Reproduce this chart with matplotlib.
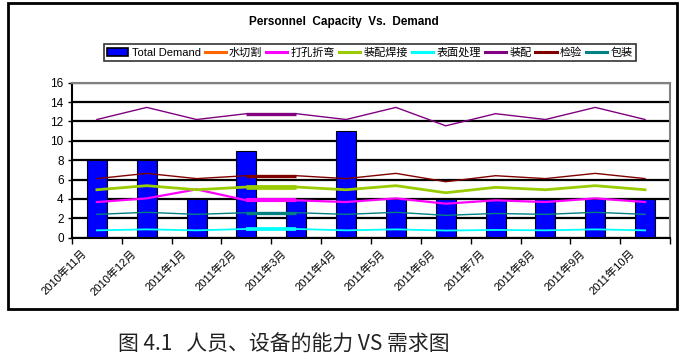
import numpy as np
import matplotlib
matplotlib.use("Agg")
import matplotlib.pyplot as plt
from matplotlib.patches import Rectangle, Patch
from matplotlib.lines import Line2D
import matplotlib.transforms as mtransforms

plt.rcParams['font.family'] = ['Liberation Sans', 'Noto Sans CJK SC', 'DejaVu Sans']

months = ["2010年11月", "2010年12月", "2011年1月", "2011年2月", "2011年3月", "2011年4月",
          "2011年5月", "2011年6月", "2011年7月", "2011年8月", "2011年9月", "2011年10月"]
total_demand = [8, 8, 4, 9, 4, 11, 4, 4, 4, 4, 4, 4]
water_cut = [np.nan] * 12  # 水切割: not visible in the chart
drill_bend = [3.68, 4.06, 4.99, 3.86, 3.86, 3.68, 4.06, 3.51, 3.86, 3.68, 4.06, 3.68]
weld = [4.95, 5.37, 4.95, 5.23, 5.23, 4.95, 5.37, 4.64, 5.2, 4.95, 5.37, 4.95]
surface = [0.76, 0.86, 0.76, 0.9, 0.9, 0.76, 0.86, 0.74, 0.8, 0.76, 0.86, 0.76]
assembly = [12.2, 13.45, 12.2, 12.8, 12.8, 12.2, 13.45, 11.55, 12.8, 12.2, 13.45, 12.2]
inspect = [6.1, 6.64, 6.1, 6.4, 6.4, 6.1, 6.64, 5.78, 6.4, 6.1, 6.64, 6.1]
pack = [2.41, 2.62, 2.41, 2.58, 2.58, 2.41, 2.62, 2.31, 2.5, 2.41, 2.62, 2.41]

series = [
    ("水切割", water_cut, "#FF6600", 1.3),
    ("打孔折弯", drill_bend, "#FF00FF", 1.6),
    ("装配焊接", weld, "#99CC00", 2.0),
    ("表面处理", surface, "#00FFFF", 1.3),
    ("装配", assembly, "#800080", 1.0),
    ("检验", inspect, "#800000", 1.0),
    ("包装", pack, "#008080", 1.0),
]

W, H = 687, 362
fig = plt.figure(figsize=(W / 100, H / 100), dpi=100)
fig.patch.set_facecolor("white")

# chart frame
fig.patches.append(Rectangle((8 / W, 1 - 309 / H), 669 / W, 306 / H, transform=fig.transFigure,
                             fill=False, edgecolor="black", linewidth=2.0))

ax = fig.add_axes([72 / W, 1 - 237.7 / H, 598 / W, 155 / H])
x = np.arange(len(months))

ax.set_axisbelow(True)
ax.yaxis.grid(True, color="black", linewidth=1.6)
bars = ax.bar(x, total_demand, width=0.4, color="#0000FF", edgecolor="black", linewidth=0.8, zorder=2)

for name, vals, col, lw in series:
    v = np.array(vals, dtype=float)
    ax.plot(x, v, color=col, linewidth=lw, zorder=3)
    # thicker rendered segment between 2011-2 and 2011-3
    ax.plot(x[3:5], v[3:5], color=col, linewidth=lw + 1.4, zorder=3, solid_capstyle="butt")

ax.set_xlim(-0.5, len(months) - 0.5)
ax.set_ylim(0, 16)
ax.set_yticks(np.arange(0, 17, 2))
ax.tick_params(axis="y", labelsize=8.5, length=3, width=1, direction="out", pad=3)

ax.set_xticks(x)
ax.set_xticklabels(months, rotation=45, ha="right", va="center", rotation_mode="anchor", fontsize=8)
ax.tick_params(axis="x", which="major", length=0, pad=10)
ax.set_xticks(np.arange(-0.5, len(months), 1), minor=True)
ax.tick_params(axis="x", which="minor", length=4, width=1, direction="out")
off = mtransforms.ScaledTranslation(-12 / 100, 0, fig.dpi_scale_trans)
for lab in ax.get_xticklabels():
    lab.set_transform(lab.get_transform() + off)

for s in ["left", "bottom"]:
    ax.spines[s].set_color("black")
    ax.spines[s].set_linewidth(1.5)
for s in ["top", "right"]:
    ax.spines[s].set_color("#808080")
    ax.spines[s].set_linewidth(1.5)

fig.text(0.5, 1 - 22 / H, "Personnel  Capacity  Vs.  Demand", ha="center", va="center",
         fontsize=8.5, fontweight="bold")

handles = [Patch(facecolor="#0000FF", edgecolor="black", linewidth=1.2)]
labels = ["Total Demand"]
for name, vals, col, lw in series:
    handles.append(Line2D([0], [0], color=col, linewidth=2.2))
    labels.append(name)
leg = fig.legend(handles, labels, loc="center", bbox_to_anchor=(370 / W, 1 - 52.5 / H), ncol=8,
                 fontsize=8, frameon=True, fancybox=False, shadow=False, handlelength=1.9,
                 handletextpad=0.3, columnspacing=0.35, borderpad=0.3, borderaxespad=0)
leg.get_frame().set_edgecolor("black")
leg.get_frame().set_linewidth(1.2)

fig.text(118 / W, 1 - 345 / H, "图 4.1   人员、设备的能力 VS 需求图", ha="left", va="center",
         fontsize=15, family=["Noto Sans CJK SC", "DejaVu Sans"], color="#222222")

fig.savefig("out.png", dpi=100, facecolor="white")
